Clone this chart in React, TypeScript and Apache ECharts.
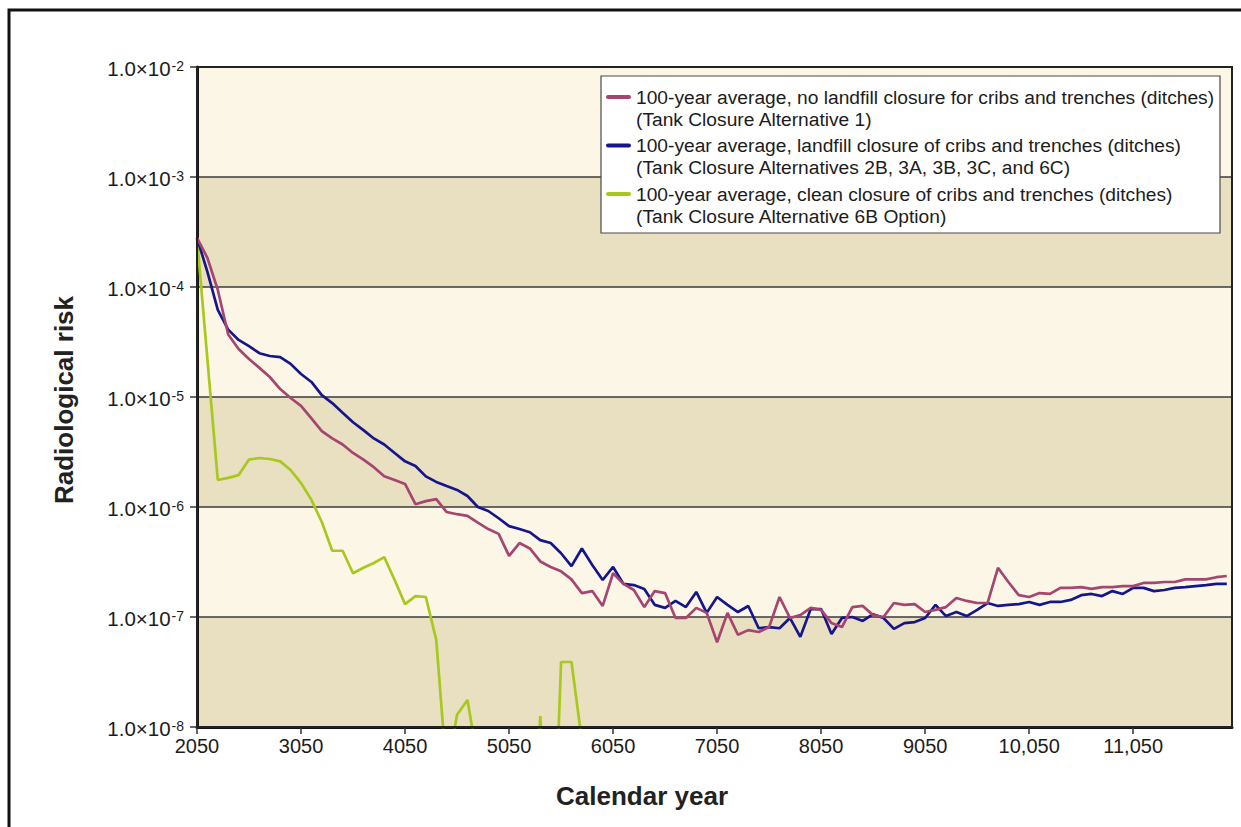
import React, { useEffect, useRef } from "react";
import * as echarts from "echarts";

// 100-year averages, one value per century starting at calendar year 2050
const START_YEAR = 2050;
const STEP_YEARS = 100;

const X_TICKS = [2050, 3050, 4050, 5050, 6050, 7050, 8050, 9050, 10050, 11050];
const X_TICK_LABELS = ["2050", "3050", "4050", "5050", "6050", "7050", "8050", "9050", "10,050", "11,050"];

const SERIES_NAMES = [
  "100-year average, no landfill closure for cribs and trenches (ditches)",
  "100-year average, landfill closure of cribs and trenches (ditches)",
  "100-year average, clean closure of cribs and trenches (ditches)",
];
const SERIES_NOTES = [
  "(Tank Closure Alternative 1)",
  "(Tank Closure Alternatives 2B, 3A, 3B, 3C, and 6C)",
  "(Tank Closure Alternative 6B Option)",
];
const SERIES_COLORS = ["#A4466F", "#16168C", "#A9C81E"];

const NO_LANDFILL = [
  2.8e-4, 1.84e-4, 9.4e-5, 3.7e-5, 2.73e-5, 2.22e-5, 1.84e-5, 1.52e-5, 1.18e-5, 9.8e-6,
  8.3e-6, 6.4e-6, 4.9e-6, 4.2e-6, 3.7e-6, 3.1e-6, 2.7e-6, 2.3e-6, 1.9e-6, 1.76e-6,
  1.62e-6, 1.06e-6, 1.13e-6, 1.18e-6, 9.0e-7, 8.6e-7, 8.3e-7, 7.2e-7, 6.3e-7, 5.7e-7,
  3.6e-7, 4.7e-7, 4.2e-7, 3.2e-7, 2.85e-7, 2.6e-7, 2.2e-7, 1.65e-7, 1.72e-7, 1.26e-7,
  2.5e-7, 2.0e-7, 1.76e-7, 1.23e-7, 1.72e-7, 1.65e-7, 9.8e-8, 9.8e-8, 1.21e-7, 1.09e-7,
  5.9e-8, 1.09e-7, 6.9e-8, 7.6e-8, 7.3e-8, 8.1e-8, 1.52e-7, 9.8e-8, 1.04e-7, 1.21e-7,
  1.16e-7, 8.8e-8, 8.1e-8, 1.23e-7, 1.26e-7, 1.04e-7, 1.0e-7, 1.34e-7, 1.29e-7, 1.31e-7,
  1.11e-7, 1.16e-7, 1.23e-7, 1.49e-7, 1.4e-7, 1.34e-7, 1.34e-7, 2.8e-7, 2.08e-7, 1.58e-7,
  1.52e-7, 1.65e-7, 1.62e-7, 1.84e-7, 1.84e-7, 1.87e-7, 1.8e-7, 1.87e-7, 1.87e-7, 1.91e-7,
  1.91e-7, 2.04e-7, 2.04e-7, 2.08e-7, 2.08e-7, 2.2e-7, 2.2e-7, 2.2e-7, 2.3e-7, 2.36e-7,
];

const LANDFILL = [
  2.8e-4, 1.37e-4, 6.2e-5, 4.1e-5, 3.3e-5, 2.9e-5, 2.5e-5, 2.36e-5, 2.3e-5, 2.0e-5,
  1.62e-5, 1.37e-5, 1.04e-5, 8.8e-6, 7.2e-6, 5.9e-6, 5.0e-6, 4.2e-6, 3.7e-6, 3.1e-6,
  2.6e-6, 2.36e-6, 1.9e-6, 1.69e-6, 1.55e-6, 1.43e-6, 1.26e-6, 1.0e-6, 9.2e-7, 7.9e-7,
  6.7e-7, 6.3e-7, 5.9e-7, 5.0e-7, 4.7e-7, 3.8e-7, 2.9e-7, 4.2e-7, 2.97e-7, 2.17e-7,
  2.85e-7, 2.0e-7, 1.95e-7, 1.8e-7, 1.29e-7, 1.21e-7, 1.4e-7, 1.23e-7, 1.69e-7, 1.09e-7,
  1.52e-7, 1.29e-7, 1.11e-7, 1.26e-7, 7.9e-8, 8.1e-8, 7.9e-8, 9.8e-8, 6.6e-8, 1.18e-7,
  1.18e-7, 7.0e-8, 9.8e-8, 1.0e-7, 9.2e-8, 1.06e-7, 9.8e-8, 7.8e-8, 8.8e-8, 9.0e-8,
  9.8e-8, 1.29e-7, 1.02e-7, 1.11e-7, 1.02e-7, 1.16e-7, 1.34e-7, 1.26e-7, 1.29e-7, 1.31e-7,
  1.37e-7, 1.29e-7, 1.37e-7, 1.37e-7, 1.43e-7, 1.58e-7, 1.62e-7, 1.55e-7, 1.72e-7, 1.62e-7,
  1.84e-7, 1.84e-7, 1.72e-7, 1.76e-7, 1.84e-7, 1.87e-7, 1.91e-7, 1.95e-7, 2.0e-7, 2.0e-7,
];

// Clean closure drops below the plotted range after ~5750; values under 1e-8 are off-scale.
const CLEAN = [
  2.8e-4, 2.2e-5, 1.76e-6, 1.84e-6, 1.95e-6, 2.7e-6, 2.79e-6, 2.73e-6, 2.6e-6, 2.17e-6,
  1.65e-6, 1.16e-6, 7.3e-7, 4.0e-7, 4.0e-7, 2.5e-7, 2.8e-7, 3.1e-7, 3.5e-7, 2.17e-7,
  1.31e-7, 1.55e-7, 1.52e-7, 6.2e-8, 3.8e-9, 1.29e-8, 1.76e-8, 4.9e-9, 1e-10, 1e-10,
  1e-10, 1e-10, 1e-10, 1.26e-8, 1e-10, 3.9e-8, 3.9e-8, 7.5e-9,
];

const FONT = '"Liberation Sans", Arial, Helvetica, sans-serif';

const toPoints = (values: number[]) =>
  values.map((v, i) => [START_YEAR + i * STEP_YEARS, v]);

const GRID = { left: 197, top: 67, width: 1035, height: 660 };

export default function App() {
  const ref = useRef<HTMLDivElement>(null);

  useEffect(() => {
    if (!ref.current) return;
    const chart = echarts.init(ref.current, undefined, { renderer: "svg" });

    const legendTop = 97;
    const itemGap = 48.5;
    const legendGraphics: any[] = [
      {
        type: "rect",
        shape: { x: 601, y: 76, width: 619, height: 157 },
        style: { fill: "#ffffff", stroke: "#4a4a4a", lineWidth: 1.2 },
        z: 100,
      },
    ];
    SERIES_NAMES.forEach((name, k) => {
      const y = legendTop + k * itemGap;
      legendGraphics.push({
        type: "line",
        shape: { x1: 608, y1: y, x2: 629, y2: y },
        style: { stroke: SERIES_COLORS[k], lineWidth: 4, lineCap: "round" },
        z: 101,
      });
      legendGraphics.push({
        type: "text",
        x: 636,
        y: y,
        style: {
          text: name,
          fontSize: 19.2,
          fontFamily: FONT,
          fill: "#1c1c1c",
          verticalAlign: "middle",
          align: "left",
        },
        z: 101,
      });
      legendGraphics.push({
        type: "text",
        x: 636,
        y: y + 22,
        style: {
          text: SERIES_NOTES[k],
          fontSize: 19.2,
          fontFamily: FONT,
          fill: "#1c1c1c",
          verticalAlign: "middle",
          align: "left",
        },
        z: 101,
      });
    });

    const seriesValues = [NO_LANDFILL, LANDFILL, CLEAN];

    chart.setOption({
      animation: false,
      backgroundColor: "#ffffff",
      grid: {
        left: GRID.left,
        top: GRID.top,
        width: GRID.width,
        height: GRID.height,
        outerBoundsMode: "none",
        containLabel: false,
      },
      xAxis: {
        type: "value",
        min: 2050,
        max: 12000,
        axisLine: { show: true, onZero: false, lineStyle: { color: "#151515", width: 3 } },
        axisTick: {
          show: true,
          customValues: X_TICKS,
          length: 7,
          lineStyle: { color: "#333", width: 1.5 },
        },
        axisLabel: {
          customValues: X_TICKS,
          formatter: (v: number) => {
            const idx = X_TICKS.indexOf(v);
            return idx >= 0 ? X_TICK_LABELS[idx] : "";
          },
          fontSize: 20,
          fontFamily: FONT,
          color: "#1c1c1c",
          margin: 9,
        },
        splitLine: { show: false },
      },
      yAxis: {
        type: "log",
        logBase: 10,
        min: 1e-8,
        max: 1e-2,
        axisLine: { show: true, onZero: false, lineStyle: { color: "#151515", width: 3 } },
        axisTick: { show: true, length: 7, lineStyle: { color: "#333", width: 1.5 } },
        axisLabel: {
          margin: 13,
          formatter: (v: number) => {
            const e = Math.round(Math.log10(v));
            return `{m|1.0×10}{e|${e}}`;
          },
          rich: {
            m: { fontSize: 20.5, fontFamily: FONT, color: "#1c1c1c", lineHeight: 22, padding: [3, 0, 0, 0] },
            e: {
              fontSize: 14,
              fontFamily: FONT,
              color: "#1c1c1c",
              lineHeight: 14,
              verticalAlign: "top",
              padding: [3, 0, 0, 1],
            },
          },
        },
        splitLine: { show: true, lineStyle: { color: "#3a3a3a", width: 1.5 } },
        splitArea: { show: true, areaStyle: { color: ["#E9DFC1", "#FCF6E6"] } },
      },
      graphic: [
        {
          type: "rect",
          shape: { x: 9, y: 10, width: 1260, height: 840 },
          style: { fill: "none", stroke: "#111", lineWidth: 3 },
          z: 50,
        },
        {
          type: "rect",
          shape: { x: GRID.left, y: GRID.top, width: GRID.width, height: GRID.height },
          style: { fill: "none", stroke: "#222", lineWidth: 2 },
          z: 50,
        },
        {
          type: "text",
          x: 642,
          y: 796,
          style: {
            text: "Calendar year",
            fontSize: 26,
            fontWeight: "bold",
            fontFamily: FONT,
            fill: "#222",
            align: "center",
            verticalAlign: "middle",
          },
        },
        {
          type: "text",
          x: 64,
          y: 400,
          rotation: Math.PI / 2,
          style: {
            text: "Radiological risk",
            fontSize: 26,
            fontWeight: "bold",
            fontFamily: FONT,
            fill: "#222",
            align: "center",
            verticalAlign: "middle",
          },
        },
        ...legendGraphics,
      ],
      series: seriesValues.map((vals, k) => ({
        type: "line",
        name: SERIES_NAMES[k],
        data: toPoints(vals),
        showSymbol: false,
        clip: true,
        lineStyle: { color: SERIES_COLORS[k], width: 2.7 },
        itemStyle: { color: SERIES_COLORS[k] },
        z: 10 - k,
      })),
    });

    return () => chart.dispose();
  }, []);

  return (
    <div
      ref={ref}
      style={{ position: "absolute", left: 0, top: 0, width: 1241, height: 827, background: "#fff" }}
    />
  );
}
